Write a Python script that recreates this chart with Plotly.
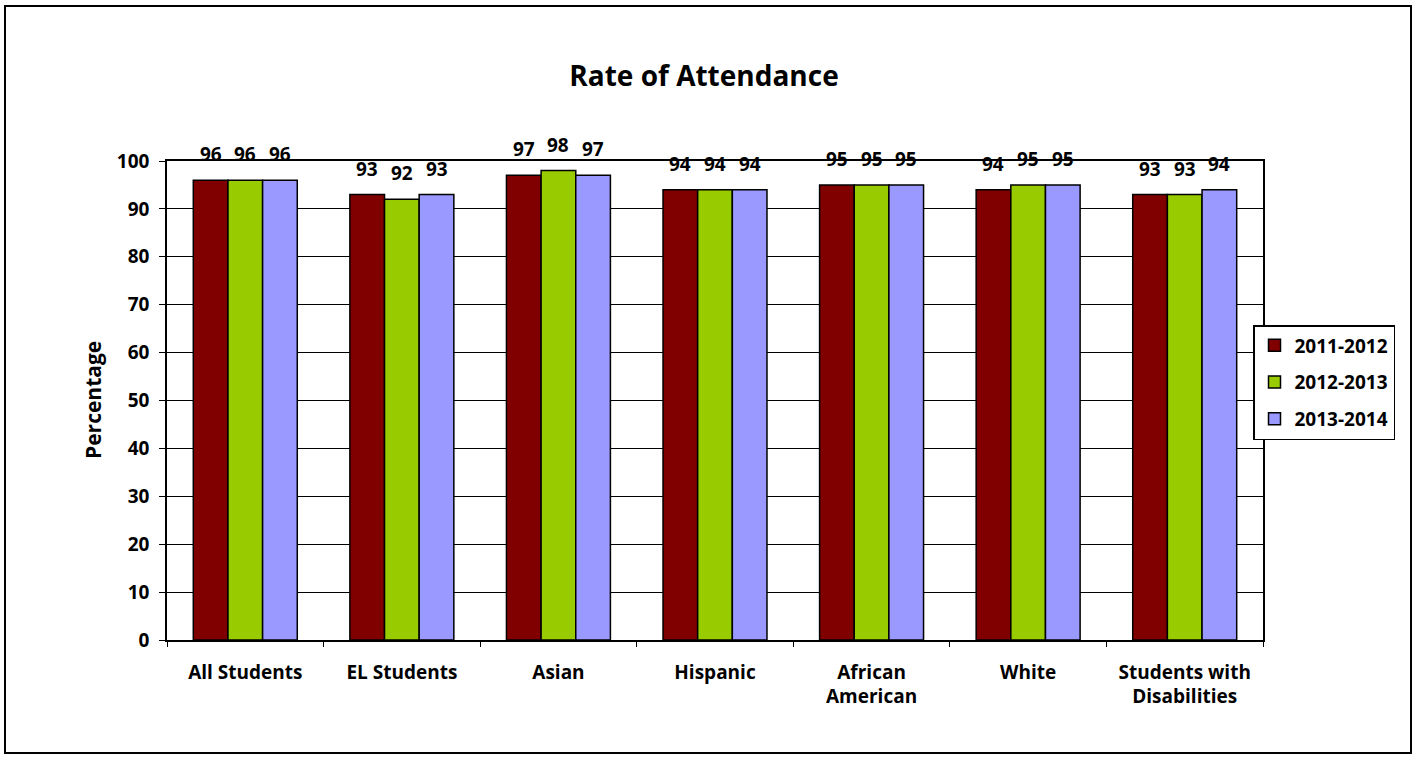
import plotly.graph_objects as go

categories = ["All Students", "EL Students", "Asian", "Hispanic",
              "African<br>American", "White", "Students with<br>Disabilities"]
series_names = ["2011-2012", "2012-2013", "2013-2014"]
v_2011 = [96, 93, 97, 94, 95, 94, 93]
v_2012 = [96, 92, 98, 94, 95, 95, 93]
v_2013 = [96, 93, 97, 94, 95, 95, 94]
colors = ["#800000", "#99CC00", "#9999FF"]

FONT = "'Open Sans', Lato, sans-serif"
W, H = 1417, 758
L, R, T, B = 167, 154, 161, 118
BARGAP = 0.336

fig = go.Figure()
all_vals = [v_2011, v_2012, v_2013]
for name, vals, col in zip(series_names, all_vals, colors):
    fig.add_trace(go.Bar(x=categories, y=vals, name=name, legendgroup=name,
                         marker=dict(color=col, line=dict(color="black", width=1.5))))

# data labels above each bar
bw = (1 - BARGAP) / 3
for j, vals in enumerate(all_vals):
    for i, v in enumerate(vals):
        fig.add_annotation(x=i + (j - 1) * bw, y=v, text=str(v), showarrow=False,
                           yshift=26, font=dict(family=FONT, size=19, color="black", weight="bold"))

pw = W - L - R
ph = H - T - B
# chart-area frame
fig.add_shape(type="rect", xref="paper", yref="paper",
              x0=(5 - L) / pw, x1=(1411 - L) / pw,
              y0=(H - B - 753) / ph, y1=(H - B - 6) / ph,
              line=dict(color="black", width=2), layer="below")

fig.add_annotation(xref="paper", yref="paper", x=(93 - L) / pw, y=(H - B - 400) / ph,
                   xanchor="center", yanchor="middle",
                   text="Percentage", textangle=-90, showarrow=False,
                   font=dict(family=FONT, size=21, color="black", weight="bold"))

fig.update_layout(
    width=W, height=H,
    margin=dict(l=L, r=R, t=T, b=B),
    paper_bgcolor="white", plot_bgcolor="white",
    barmode="group", bargap=BARGAP, bargroupgap=0,
    font=dict(family=FONT, size=19, color="black", weight="bold"),
    title=dict(text="Rate of Attendance", x=704 / W, xanchor="center",
               y=1 - 76 / H, yanchor="middle",
               font=dict(family=FONT, size=28, color="black", weight="bold")),
    showlegend=True,
    legend=dict(x=(1253 - L) / pw, xanchor="left", y=(H - B - 325) / ph, yanchor="top",
                bgcolor="white", bordercolor="black", borderwidth=1.5,
                traceorder="grouped", tracegroupgap=9,
                font=dict(family=FONT, size=19, color="black", weight="bold"),
                itemwidth=30),
)
fig.update_yaxes(range=[0, 100], dtick=10, showgrid=True, gridcolor="black", gridwidth=1,
                 showline=True, linecolor="black", linewidth=1.5, mirror=True,
                 ticks="outside", ticklen=6, tickcolor="black", zeroline=False,
                 ticklabelstandoff=6,
                 tickfont=dict(family=FONT, size=19, color="black", weight="bold"))
fig.update_xaxes(showline=True, linecolor="black", linewidth=1.5, mirror=True,
                 ticks="outside", ticklen=5, tickcolor="black", tickson="boundaries",
                 ticklabelstandoff=14,
                 tickfont=dict(family=FONT, size=19, color="black", weight="bold"))

fig.write_html("out.html", config={"displayModeBar": False},
               post_script="document.body.style.margin='0';")
